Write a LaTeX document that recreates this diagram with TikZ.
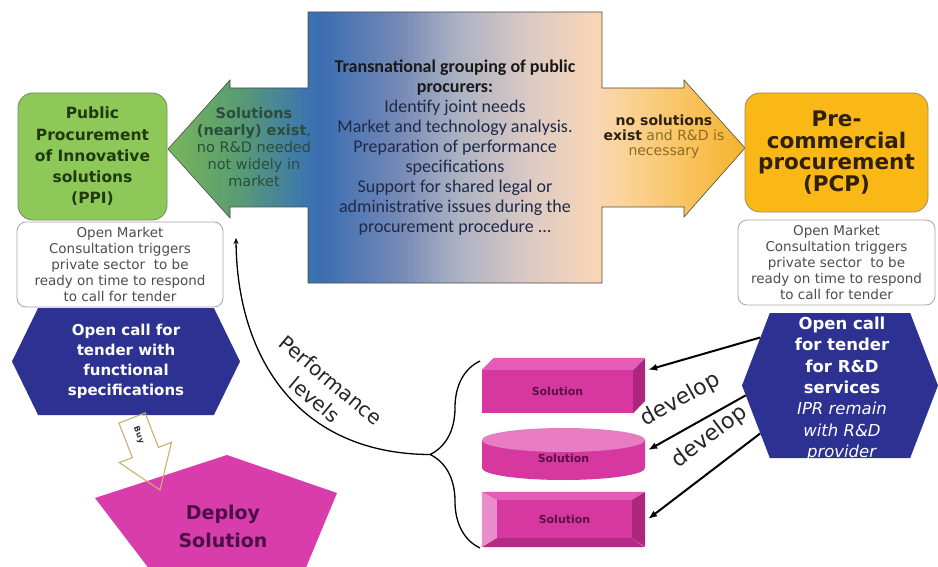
\documentclass[tikz,border=0pt]{standalone}
\usepackage{fontspec}
\setmainfont{DejaVu Sans}[ItalicFont=DejaVu Sans Oblique,BoldItalicFont=DejaVu Sans Bold Oblique]
\newfontfamily\calfont{Carlito}
\usetikzlibrary{arrows.meta,positioning,shapes.symbols,decorations.pathreplacing}

\definecolor{cgreen}{HTML}{78B65A}
\definecolor{cteal}{HTML}{5A9C72}
\definecolor{cblueA}{HTML}{3F7AAA}
\definecolor{cblueB}{HTML}{3A6DB2}
\definecolor{cblueC}{HTML}{7589B6}
\definecolor{cgray}{HTML}{ABB1C3}
\definecolor{cpink}{HTML}{DCCAC4}
\definecolor{cpeach}{HTML}{F6D5B8}
\definecolor{cyellow}{HTML}{FBD49C}
\definecolor{corange}{HTML}{F6B32A}
\definecolor{centtext}{HTML}{1F2A48}
\definecolor{solgreen}{HTML}{2B4D3A}
\definecolor{nosolbrown}{HTML}{8C6D20}
\definecolor{nosoldark}{HTML}{2B2210}
\definecolor{ppigreen}{HTML}{8DC859}
\definecolor{ppiedge}{HTML}{6E8E60}
\definecolor{ppitext}{HTML}{1F3A10}
\definecolor{pcporange}{HTML}{FAB817}
\definecolor{pcpedge}{HTML}{9C8B68}
\definecolor{pcptext}{HTML}{2E2108}
\definecolor{constext}{HTML}{4D4D4D}
\definecolor{hexblue}{HTML}{2C3192}
\definecolor{buytan}{HTML}{C8B070}
\definecolor{deploypink}{HTML}{D93CAB}
\definecolor{deploytext}{HTML}{4A0F45}
\definecolor{solface}{HTML}{D6389F}
\definecolor{soltop}{HTML}{E45CB5}
\definecolor{solside}{HTML}{AE2580}
\definecolor{solhigh}{HTML}{EA8DCC}
\definecolor{soldark}{HTML}{B42B86}
\definecolor{solcap}{HTML}{E77CC3}
\definecolor{soltext}{HTML}{5A1048}

\pgfdeclarehorizontalshading{crossfill}{100bp}{color(0bp)=(cgreen); color(25bp)=(cgreen); color(31bp)=(cteal); color(36.4bp)=(cblueA); color(38.2bp)=(cblueB); color(45bp)=(cblueC); color(50bp)=(cgray); color(56.4bp)=(cpink); color(61.6bp)=(cpeach); color(64.2bp)=(cyellow); color(75bp)=(corange); color(100bp)=(corange)}

\begin{document}
\begin{tikzpicture}[x=1pt,y=1pt,
  proc node/.style={rectangle,rounded corners=15pt,draw=#1,line width=0.8pt,align=center},
  cons node/.style={rectangle,rounded corners=9pt,draw=gray!70,line width=0.8pt,fill=white,align=center,text=constext,font=\fontsize{13.5}{15.8}\selectfont,minimum height=85pt},
  hex node/.style={signal,signal from=nowhere,signal to=west and east,fill=hexblue,inner sep=0pt,text=white,align=center},
  sol node/.style={rectangle,fill=solface,inner sep=0pt,text=soltext,font=\bfseries\fontsize{11}{13}\selectfont},
  dev arrow/.style={-{Latex[length=9pt,width=7pt]},line width=2pt},
  dev label/.style={sloped,above=13pt,font=\fontsize{22}{24}\selectfont,text=black!85}]
\path[fill=white] (0,0) rectangle (938,-567);
\useasboundingbox (0,0) rectangle (938,-567);

% grouping of procurers, arrows both ways
\path[shading=crossfill,draw=gray!60!black,line width=0.6pt] (168,-149) -- (230,-80) -- (230,-88) -- (308,-88) -- (308,-12) -- (602,-12) -- (602,-88) -- (684,-88) -- (684,-80) -- (745,-148) -- (684,-217) -- (684,-207) -- (602,-207) -- (602,-283) -- (308,-283) -- (308,-207) -- (230,-207) -- (230,-218) -- cycle;
\node[font=\calfont\fontsize{18}{20}\selectfont,text=centtext,align=center] (tgroup) at (455,-148) {\textcolor{black!90}{\textbf{Transnational grouping of public}}\\\textcolor{black!90}{\textbf{procurers:}}\\Identify joint needs\\Market and technology analysis.\\Preparation of performance\\specifications\\Support for shared legal or\\administrative issues during the\\procurement procedure ...};
\node[font=\fontsize{14.5}{17}\selectfont,text=solgreen,align=center] (solex) at (254,-147.5) {\textbf{Solutions}\\\textbf{(nearly) exist},\\no R\&D needed\\not widely in\\market};
\node[font=\fontsize{14}{15}\selectfont,text=nosolbrown,align=center] (nosol) at (664,-137) {\textcolor{nosoldark}{\textbf{no solutions}}\\\textcolor{nosoldark}{\textbf{exist}} and R\&D is\\necessary};

\node[proc node=ppiedge,fill=ppigreen,minimum width=149pt,minimum height=127pt,text=ppitext,font=\bfseries\fontsize{15.5}{21.2}\selectfont] (ppi) at (92.5,-156.5) {Public\\Procurement\\of Innovative\\solutions\\(PPI)};
\node[proc node=pcpedge,fill=pcporange,minimum width=183pt,minimum height=119pt,text=pcptext,font=\bfseries\fontsize{21.5}{21.7}\selectfont] (pcp) at (836.5,-152.5) {Pre-\\commercial\\procurement\\(PCP)};

\node[cons node,minimum width=206pt] (ppicons) at (120,-264.5) {Open Market\\Consultation triggers\\private sector\ \ to be\\ready on time to respond\\to call for tender};
\node[cons node,minimum width=197pt] (pcpcons) at (836.5,-262.5) {Open Market\\Consultation triggers\\private sector\ \ to be\\ready on time to respond\\to call for tender};

\node[hex node,minimum width=228pt,minimum height=107pt,signal pointer angle=128,font=\bfseries\fontsize{15}{20}\selectfont] (lhex) at (126,-361.5) {Open call for\\tender with\\functional\\specifications};
\node[hex node,minimum width=196pt,minimum height=145pt,signal pointer angle=138] (rhex) at (840,-385.5) {};
\node[text=white,align=center,font=\bfseries\fontsize{16.5}{21.3}\selectfont] (rhextxt) at (842,-389) {Open call\\for tender\\for R\&D\\services\\\textmd{\textit{IPR remain}}\\\textmd{\textit{with R\&D}}\\\textmd{\textit{provider}}};

% deploy
\fill[deploypink] (95,-498) -- (227,-455) -- (337,-493) -- (305,-570) -- (150,-570) -- cycle;
\node[text=deploytext,font=\bfseries\fontsize{19}{28}\selectfont,align=center] (deploy) at (223,-526) {Deploy\\Solution};
\draw[buytan,line width=1.1pt,line join=miter] (118.95,-423.1) -- (145.05,-412.9) -- (158.45,-447.4) -- (171.5,-442.35) -- (160,-490) -- (119.3,-462.65) -- (132.35,-457.6) -- cycle;
\node[rotate=-69,font=\bfseries\fontsize{8}{9}\selectfont,text=black!80] (buy) at (138.7,-435.2) {Buy};

% solutions
\node[sol node,minimum width=151pt,minimum height=43pt] (sola) at (557.5,-391.5) {Solution};
\fill[soltop] (sola.north west) -- ++(12,12) -- ++(151,0) -- (sola.north east) -- cycle;
\fill[solside] (sola.north east) -- ++(12,12) -- ++(0,-43) -- (sola.south east) -- cycle;

\fill[solface] (482,-440) -- (482,-468) arc[start angle=180,end angle=360,x radius=81.5pt,y radius=12pt] -- (645,-440) -- cycle;
\fill[solcap] (563.5,-440) ellipse[x radius=81.5pt,y radius=12pt];
\node[sol node,fill=none,minimum width=163pt,minimum height=40pt] (solb) at (563.5,-458) {Solution};

\node[sol node,minimum width=135pt,minimum height=38pt] (solc) at (564.5,-519) {Solution};
\fill[solhigh] (solc.north west) -- ++(-15,8) -- ++(0,-55) -- (solc.south west) -- cycle;
\fill[soltop] (solc.north west) -- ++(-15,8) -- ++(163,0) -- (solc.north east) -- cycle;
\fill[solside] (solc.north east) -- ++(13,8) -- ++(0,-55) -- (solc.south east) -- cycle;
\fill[soldark] (solc.south west) -- ++(-15,-9) -- ++(163,0) -- (solc.south east) -- cycle;

\coordinate (bracetop) at (480,-361);
\coordinate (bracebot) at (480,-548);
\coordinate (bracetip) at (430,-454.5);
\coordinate (perfend) at (236,-238);
\draw[decorate,decoration={brace,amplitude=50pt},line width=1.3pt] (bracebot) -- (bracetop);
\draw[line width=1.3pt,-{Stealth[length=6pt,width=5pt]}] (bracetip) .. controls (300,-454) and (237,-360) .. (perfend);
\node[font=\fontsize{20}{25}\selectfont,rotate=-40,align=center,text=black!85] (perflbl) at (323,-390) {Performance\\levels};

\draw[dev arrow] (rhex.149) -- ([xshift=15pt]sola.north east);
\draw[dev arrow] (rhex.186) -- node[dev label,pos=0.53] (devb) {develop} ([xshift=3pt,yshift=8pt]solb.east);
\draw[dev arrow] (rhex.211) -- node[dev label,pos=0.3] (devc) {develop} ([xshift=16pt]solc.east);
\end{tikzpicture}
\end{document}
